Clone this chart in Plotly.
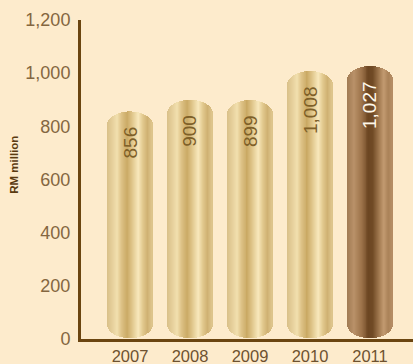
import numpy as np
import plotly.graph_objects as go

years = ["2007", "2008", "2009", "2010", "2011"]
values = [856, 900, 899, 1008, 1027]
value_labels = ["856", "900", "899", "1,008", "1,027"]
y_ticks = [0, 200, 400, 600, 800, 1000, 1200]
y_tick_labels = ["0", "200", "400", "600", "800", "1,000", "1,200"]

BG = "#fdebcc"
AXIS = "#6b4510"
TICK = "#846640"

gold_stops = [(0.0, "#d9c088"), (0.12, "#e6d09c"), (0.22, "#f2e0ae"), (0.32, "#dcc084"),
              (0.45, "#c9a862"), (0.58, "#e2c98f"), (0.70, "#f8e8bc"), (0.80, "#e2c98e"),
              (0.90, "#cfb172"), (1.0, "#dfc68e")]
brown_stops = [(0.0, "#a07a52"), (0.15, "#b99169"), (0.32, "#9c7249"), (0.48, "#6c4622"),
               (0.58, "#704a25"), (0.72, "#a27a50"), (0.82, "#c29a70"), (0.92, "#aa8258"),
               (1.0, "#b68e66")]


def hex2rgb(h):
    h = h.lstrip("#")
    return np.array([int(h[i:i + 2], 16) for i in (0, 2, 4)], dtype=float)


def grad(stops, t):
    for (t0, c0), (t1, c1) in zip(stops[:-1], stops[1:]):
        if t <= t1:
            f = (t - t0) / (t1 - t0) if t1 > t0 else 0
            c = hex2rgb(c0) * (1 - f) + hex2rgb(c1) * f
            return "rgb(%d,%d,%d)" % tuple(np.round(c))
    c = hex2rgb(stops[-1][1])
    return "rgb(%d,%d,%d)" % tuple(c)


HALF = 0.375      # half bar width in category units
CAP = 52          # cap height in data units
NSTRIP = 46

xs, bases, lens, cols, widths = [], [], [], [], []
sw = 2 * HALF / NSTRIP
for i, v in enumerate(values):
    stops = brown_stops if i == len(values) - 1 else gold_stops
    for k in range(NSTRIP):
        t = (k + 0.5) / NSTRIP
        u = 2 * t - 1
        drop = CAP * (1 - np.sqrt(max(0.0, 1 - u * u)))
        lo = 3 + drop
        hi = v - drop
        xs.append(i - HALF + (k + 0.5) * sw)
        bases.append(lo)
        lens.append(hi - lo)
        cols.append(grad(stops, t))
        widths.append(sw * 1.15)

fig = go.Figure()
fig.add_trace(go.Bar(x=xs, y=lens, base=bases, width=widths,
                     marker=dict(color=cols, line=dict(width=0)),
                     hoverinfo="skip", showlegend=False))

for i, (v, lab) in enumerate(zip(values, value_labels)):
    fig.add_annotation(x=i, y=v, text=lab, showarrow=False, textangle=-90,
                       yanchor="top", yshift=-13,
                       font=dict(size=19, family="Liberation Sans, Arial",
                                 color="#fff8ea" if i == len(values) - 1 else "#7e6028"))

fig.add_annotation(xref="paper", yref="paper", x=-0.2, y=0.545, text="<b>RM million</b>",
                   textangle=-90, showarrow=False, xanchor="center", yanchor="middle",
                   font=dict(size=11.5, family="Liberation Sans, Arial", color="#5a3a10"))

fig.update_layout(
    width=413, height=364,
    margin=dict(l=81, r=0, t=20, b=25),
    paper_bgcolor=BG, plot_bgcolor=BG,
    bargap=0,
    xaxis=dict(range=[-0.817, 4.717], tickvals=list(range(len(years))), ticktext=years,
               showgrid=False, zeroline=False, showline=True, linecolor=AXIS, linewidth=3,
               ticks="", tickfont=dict(size=16.5, family="Liberation Sans, Arial", color="#6e5230")),
    yaxis=dict(range=[0, 1200], tickvals=y_ticks, ticktext=y_tick_labels,
               showgrid=False, zeroline=False, showline=True, linecolor=AXIS, linewidth=3,
               ticks="", ticklabelstandoff=4,
               tickfont=dict(size=18, family="Liberation Sans, Arial", color=TICK)),
)

fig.write_html("out.html", config={"displayModeBar": False},
               post_script="document.body.style.margin='0';document.body.style.background='%s';" % BG)
